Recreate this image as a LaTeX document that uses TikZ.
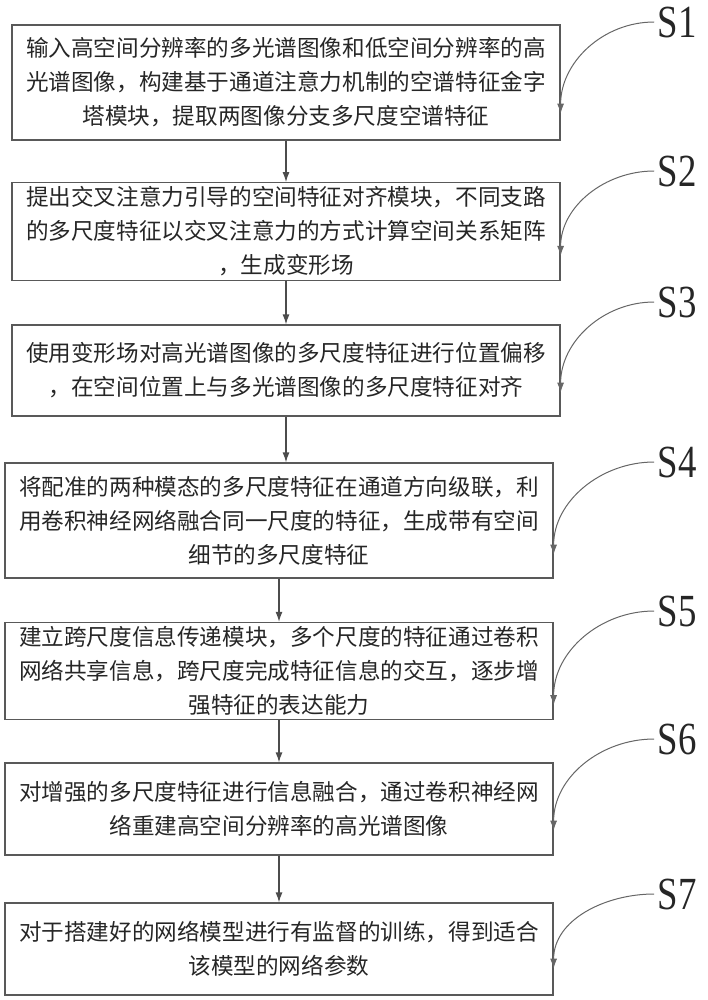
\documentclass[tikz,border=0pt]{standalone}
\usepackage{fontspec}
\setmainfont{Liberation Serif}
\newfontfamily\cjk{Noto Sans CJK SC}
\usetikzlibrary{arrows.meta}

\begin{document}
\begin{tikzpicture}[x=0.5pt, y=-0.5pt,
    stepbox/.style={draw=black!65, line width=0.6pt, minimum width=274pt, inner sep=2pt,
        align=center, font=\cjk\fontsize{11.3}{17}\selectfont, text=black!85},
    steptag/.style={inner sep=1.5pt, font=\fontsize{23}{23}\selectfont, text=black!85},
    flow/.style={draw=black!70, line width=0.6pt, -{Latex[length=5pt,width=3.5pt]}},
    lead/.style={draw=black!60, line width=0.5pt, -{Latex[length=5pt,width=3.5pt]}}]
    \useasboundingbox (0,0) rectangle (707,1000);
    \node[stepbox, minimum height=57.5pt] (b1) at (286,82.5)
        {输入高空间分辨率的多光谱图像和低空间分辨率的高\\光谱图像，构建基于通道注意力机制的空谱特征金字\\塔模块，提取两图像分支多尺度空谱特征};
    \node[stepbox, minimum height=46.5pt] (b2) at (286,231.5)
        {提出交叉注意力引导的空间特征对齐模块，不同支路\\的多尺度特征以交叉注意力的方式计算空间关系矩阵\\，生成变形场};
    \node[stepbox, minimum height=45.5pt] (b3) at (286,370.5)
        {使用变形场对高光谱图像的多尺度特征进行位置偏移\\，在空间位置上与多光谱图像的多尺度特征对齐};
    \node[stepbox, minimum height=57.5pt] (b4) at (279,520.5)
        {将配准的两种模态的多尺度特征在通道方向级联，利\\用卷积神经网络融合同一尺度的特征，生成带有空间\\细节的多尺度特征};
    \node[stepbox, minimum height=46pt] (b5) at (279,671)
        {建立跨尺度信息传递模块，多个尺度的特征通过卷积\\网络共享信息，跨尺度完成特征信息的交互，逐步增\\强特征的表达能力};
    \node[stepbox, minimum height=46pt] (b6) at (279,809)
        {对增强的多尺度特征进行信息融合，通过卷积神经网\\络重建高空间分辨率的高光谱图像};
    \node[stepbox, minimum height=46pt] (b7) at (279,949)
        {对于搭建好的网络模型进行有监督的训练，得到适合\\该模型的网络参数};
    \node[steptag] (s1) at (677,22) {\scalebox{0.8}[1]{S1}};
    \node[steptag] (s2) at (677,171) {\scalebox{0.8}[1]{S2}};
    \node[steptag] (s3) at (677,302) {\scalebox{0.8}[1]{S3}};
    \node[steptag] (s4) at (677,462) {\scalebox{0.8}[1]{S4}};
    \node[steptag] (s5) at (677,611) {\scalebox{0.8}[1]{S5}};
    \node[steptag] (s6) at (677,739) {\scalebox{0.8}[1]{S6}};
    \node[steptag] (s7) at (677,894) {\scalebox{0.8}[1]{S7}};
    \foreach \i/\d in {1/13.5,2/12.5,3/12,4/12,5/7.5,6/12.5,7/13.5}
        \draw[lead] (s\i.west) to[out=180, in=90] ([yshift=\d pt]b\i.south east);
    \foreach \i/\j in {1/2,2/3,3/4,4/5,5/6,6/7}
        \draw[flow] (b\i.south) -- (b\i.south |- b\j.north);
\end{tikzpicture}
\end{document}
